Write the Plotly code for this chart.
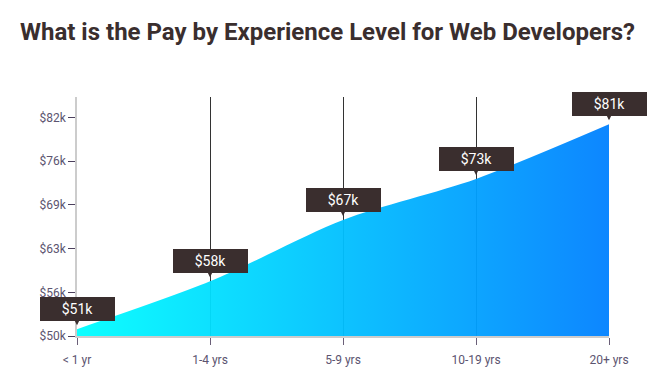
import plotly.graph_objects as go

categories = ["< 1 yr", "1-4 yrs", "5-9 yrs", "10-19 yrs", "20+ yrs"]
pay_k = [51, 58, 67, 73, 81]
label_text = ["$51k", "$58k", "$67k", "$73k", "$81k"]
ytick_vals = [50, 56.4, 62.8, 69.2, 75.6, 82]
ytick_text = ["$50k", "$56k", "$63k", "$69k", "$76k", "$82k"]

x_idx = list(range(len(categories)))

fig = go.Figure()
fig.add_trace(go.Scatter(
    x=x_idx, y=pay_k, mode="lines",
    line=dict(width=0, shape="spline", smoothing=0.8),
    fill="tozeroy",
    fillgradient=dict(type="horizontal",
                      colorscale=[[0, "rgba(0,255,255,0.95)"], [1, "rgba(0,128,255,0.95)"]]),
    hoverinfo="skip", showlegend=False,
))

for xi, v, t in zip(x_idx, pay_k, label_text):
    fig.add_annotation(
        x=xi, y=v, xref="x", yref="y", text=t,
        showarrow=True, ax=0, ay=-20, arrowhead=2, arrowsize=1, arrowwidth=1.4,
        arrowcolor="#3a2e2e", standoff=4,
        bgcolor="#3a2e2e", bordercolor="#3a2e2e", borderwidth=0, borderpad=2,
        width=71, height=20,
        font=dict(family="Roboto", size=14, color="#ffffff"),
    )

fig.update_layout(
    width=659, height=383,
    margin=dict(l=77, r=50, t=97, b=47),
    paper_bgcolor="white", plot_bgcolor="white",
    font=dict(family="Roboto", size=12, color="#5c5470"),
    title=dict(text="<b>What is the Pay by Experience Level for Web Developers?</b>",
               x=20/659, xanchor="left", xref="container",
               y=1 - 32/383, yanchor="middle", yref="container",
               font=dict(family="Roboto", size=24, color="#3a2e2e")),
    xaxis=dict(range=[0, 4], tickvals=x_idx, ticktext=categories,
               showgrid=True, gridcolor="#333333", gridwidth=1,
               showline=True, linecolor="#cccccc", linewidth=1.5,
               ticks="outside", ticklen=7, tickcolor="#6b5f78",
               ticklabelstandoff=5, zeroline=False, fixedrange=True),
    yaxis=dict(range=[50, 85], tickvals=ytick_vals, ticktext=ytick_text,
               showgrid=False, showline=True, linecolor="#cccccc", linewidth=1.5,
               ticks="outside", ticklen=7, tickcolor="#4b3f5c",
               zeroline=False, fixedrange=True),
)

fig.write_html("out.html", config={"displayModeBar": False},
               post_script="document.body.style.margin='0';")
